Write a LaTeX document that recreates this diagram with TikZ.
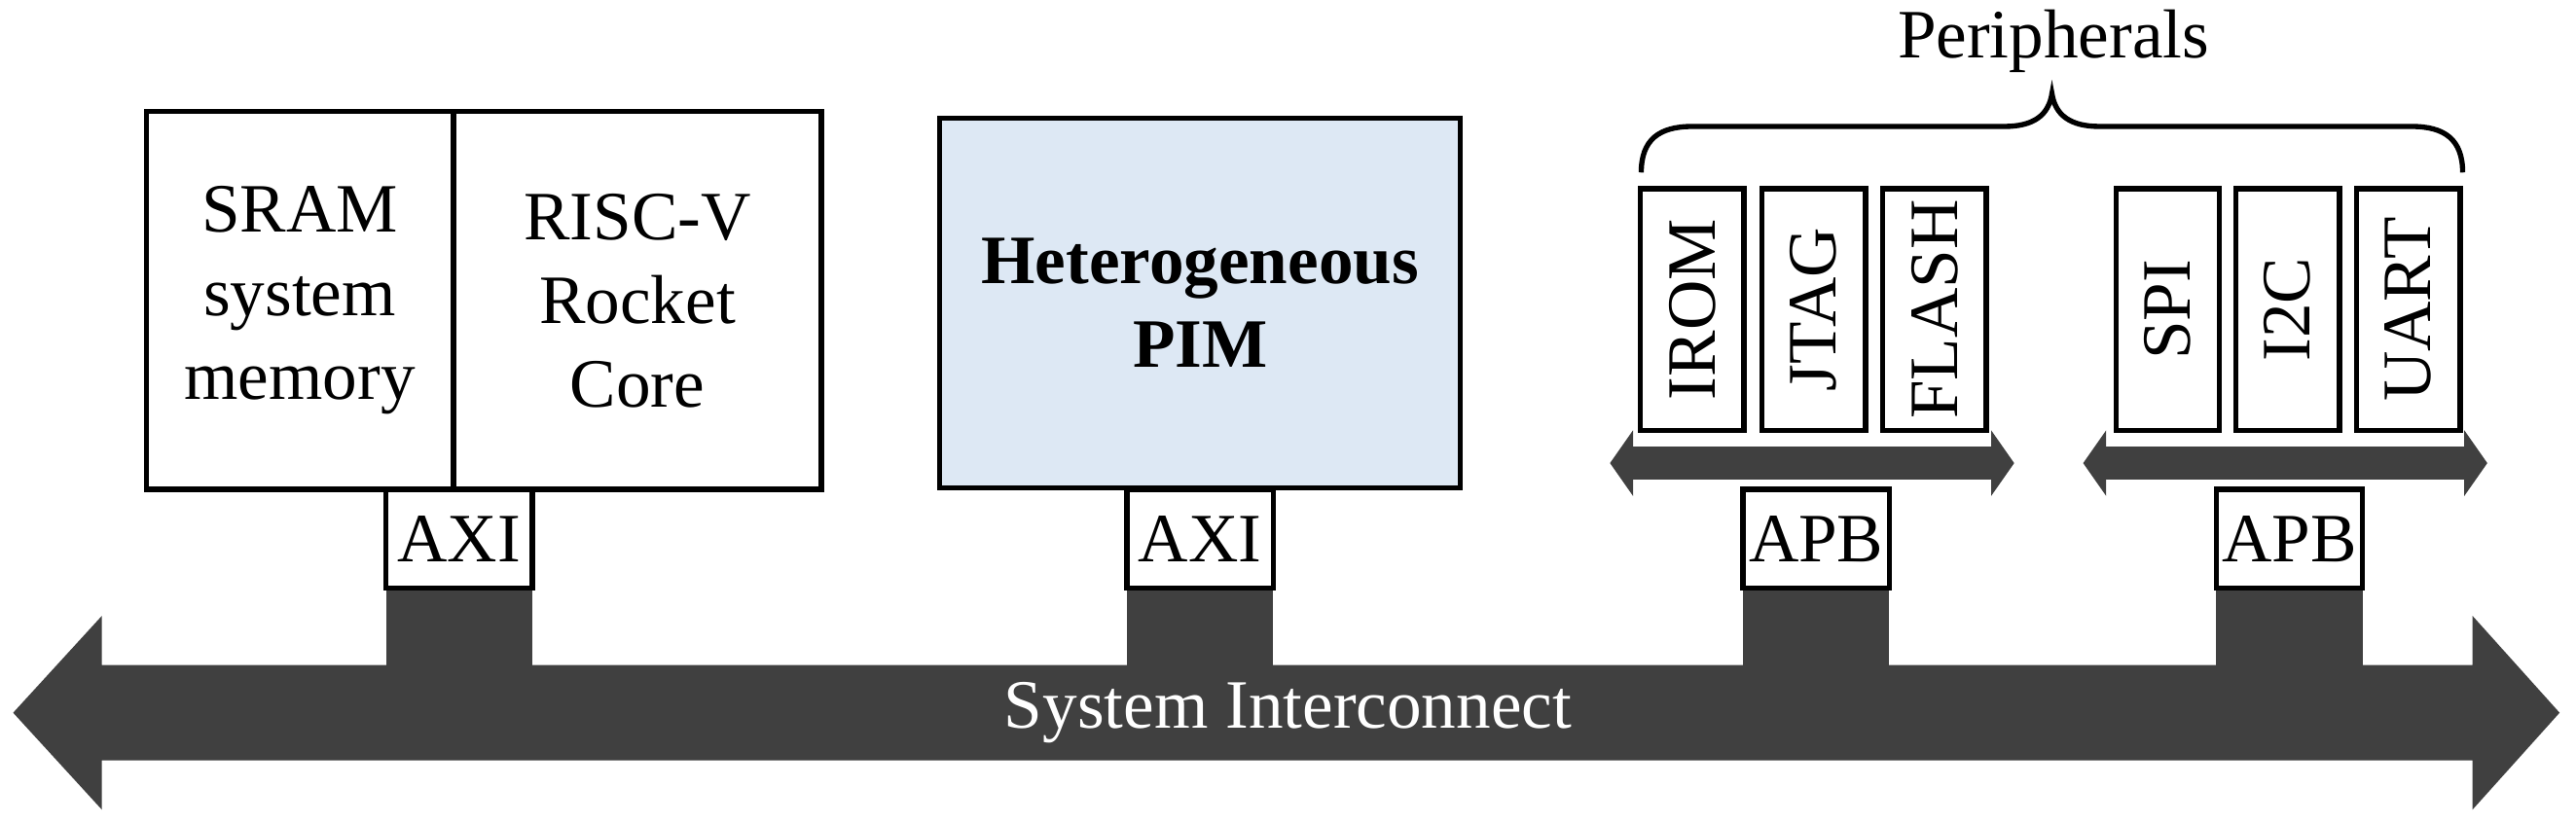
\documentclass[tikz,border=0pt]{standalone}
\usepackage{fontspec}
\setmainfont{Liberation Serif}
\begin{document}
\begin{tikzpicture}[x=0.02cm,y=-0.02cm,
  box/.style={draw=black,line width=1.8pt,inner sep=0pt},
  lbl/.style={font=\fontsize{24}{29}\selectfont,align=center},
  dark/.style={fill=black!75,draw=none}]
\useasboundingbox (0,0) rectangle (1568,501);
% main bus
\fill[dark] (8,434) -- (62,375) -- (62,405) -- (1505,405) -- (1505,375) -- (1558,434) -- (1505,493) -- (1505,463) -- (62,463) -- (62,493) -- cycle;
\node[lbl,text=white] (bus) at (784,434) {System Interconnect};
% stubs
\foreach \a in {235,686,1061,1349} \fill[dark] (\a,356) rectangle (\a+89,406);
% left boxes
\node[box,minimum width=187*0.02cm,minimum height=230*0.02cm,lbl] (sram) at (182.5,183) {SRAM\\system\\memory};
\node[box,minimum width=224*0.02cm,minimum height=230*0.02cm,lbl] (risc) at (388,183) {RISC-V\\Rocket\\Core};
\node[box,fill=white,minimum width=89*0.02cm,minimum height=60*0.02cm,lbl] (axi1) at (279.5,328) {AXI};
% PIM
\node[box,fill=blue!12!cyan!5,fill={rgb,255:red,221;green,232;blue,244},minimum width=317*0.02cm,minimum height=225*0.02cm,lbl,font=\fontsize{24}{29}\selectfont\bfseries] (pim) at (730.5,184.5) {Heterogeneous\\PIM};
\node[box,fill=white,minimum width=89*0.02cm,minimum height=60*0.02cm,lbl] (axi2) at (730.5,328) {AXI};
\node[box,fill=white,minimum width=89*0.02cm,minimum height=60*0.02cm,lbl] (apb1) at (1105.5,328) {APB};
\node[box,fill=white,minimum width=89*0.02cm,minimum height=60*0.02cm,lbl] (apb2) at (1393.5,328) {APB};
% small buses
\foreach \l/\r in {980/1226,1268/1514}
  \fill[dark] (\l,282) -- (\l+14,262) -- (\l+14,272) -- (\r-14,272) -- (\r-14,262) -- (\r,282) -- (\r-14,302) -- (\r-14,292) -- (\l+14,292) -- (\l+14,302) -- cycle;
% peripherals
\foreach \n/\c in {IROM/1030,JTAG/1104,FLASH/1177.5,SPI/1319.5,I2C/1392.5,UART/1466}
  \node[box,fill=white,minimum width=63*0.02cm,minimum height=147*0.02cm] (\n) at (\c,188.5) {};
\foreach \n/\c in {IROM/1030,JTAG/1104,FLASH/1177.5,SPI/1319.5,I2C/1392.5,UART/1466}
  \node[lbl,rotate=90] at (\n) {\n};
% brace
\draw[line width=1.8pt] (999,105) .. controls (999,85) and (1010,77) .. (1030,77) -- (1220,77) .. controls (1238,77) and (1247,70) .. (1249,57) .. controls (1251,70) and (1260,77) .. (1278,77) -- (1468,77) .. controls (1488,77) and (1499,85) .. (1499,105);
\node[lbl] (per) at (1250,25) {Peripherals};
\end{tikzpicture}
\end{document}
